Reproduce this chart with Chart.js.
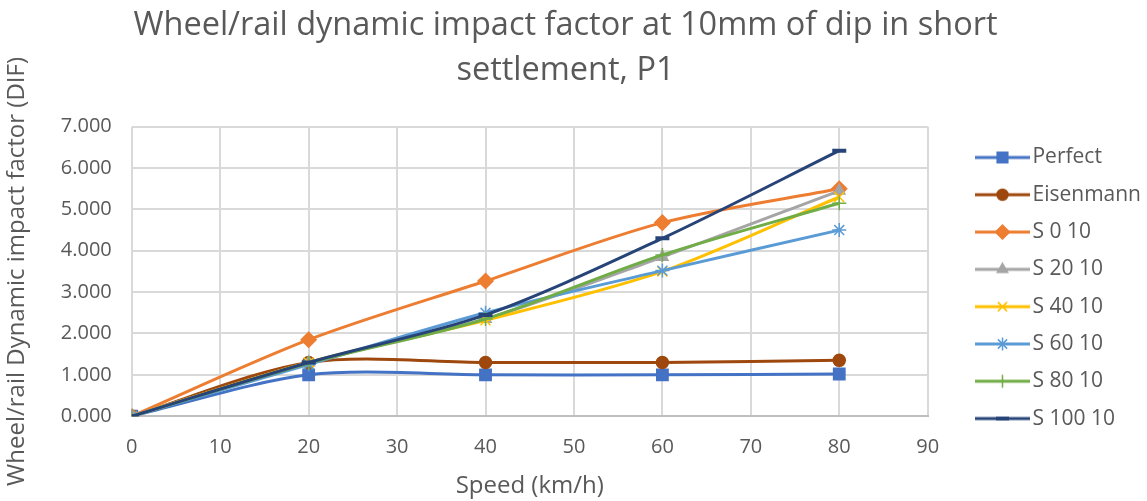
<!DOCTYPE html>
<html lang="en">
<head>
    <meta charset="UTF-8">
    <title>Wheel/rail dynamic impact factor</title>
    <script src="https://cdn.jsdelivr.net/npm/chart.js"></script>
    <style>
        html, body { margin: 0; padding: 0; background: #fff; }
        .chart-container { width: 1147px; height: 501px; }
    </style>
</head>
<body>
<div class="chart-container">
    <canvas id="difChart" width="1147" height="501"></canvas>
</div>

<script>
    // speeds (km/h)
    const speeds = [0, 20, 40, 60, 80];

    const perfect   = [0, 1.00, 1.00, 1.00, 1.02];
    const eisenmann = [0, 1.30, 1.30, 1.30, 1.35];
    const s0_10     = [0, 1.85, 3.27, 4.68, 5.50];
    const s20_10    = [0, 1.30, 2.35, 3.85, 5.45];
    const s40_10    = [0, 1.30, 2.32, 3.50, 5.30];
    const s60_10    = [0, 1.25, 2.50, 3.52, 4.50];
    const s80_10    = [0, 1.28, 2.35, 3.90, 5.15];
    const s100_10   = [0, 1.30, 2.45, 4.30, 6.42];

    const seriesNames = ['Perfect', 'Eisenmann', 'S 0 10', 'S 20 10', 'S 40 10', 'S 60 10', 'S 80 10', 'S 100 10'];
    const seriesValues = [perfect, eisenmann, s0_10, s20_10, s40_10, s60_10, s80_10, s100_10];
    const colors = ['#4472C4', '#9E480E', '#ED7D31', '#A5A5A5', '#FFC000', '#5B9BD5', '#70AD47', '#264478'];
    const markers = ['rect', 'circle', 'rectRot', 'triangle', 'crossRot', 'star', 'cross', 'line'];
    const markerSize = [8, 6, 7.5, 6.5, 7, 7, 7, 7];

    const textColor = '#595959';
    const font = '"Open Sans", "Noto Sans", sans-serif';

    // line + marker images for the legend (left part kept transparent as a gap)
    const iconW = 94, iconGap = 39;
    const legendIcons = seriesNames.map((name, i) => {
        const c = document.createElement('canvas');
        c.width = iconW;
        c.height = 20;
        const g = c.getContext('2d');
        g.strokeStyle = colors[i];
        g.lineWidth = 3;
        g.beginPath();
        g.moveTo(iconGap, 10);
        g.lineTo(iconW, 10);
        g.stroke();
        g.fillStyle = colors[i];
        g.lineWidth = markers[i] === 'line' ? 4 : 1.5;
        Chart.helpers.drawPoint(g, { pointStyle: markers[i], radius: markerSize[i] - 0.5, rotation: 0, borderWidth: g.lineWidth }, (iconGap + iconW) / 2, 10);
        return c;
    });

    const datasets = seriesNames.map((name, i) => ({
        label: name,
        data: speeds.map((s, j) => ({ x: s, y: seriesValues[i][j] })),
        borderColor: colors[i],
        backgroundColor: colors[i],
        borderWidth: 3,
        pointStyle: markers[i],
        pointRadius: markerSize[i],
        pointBorderWidth: markers[i] === 'line' ? 4 : 1.5,
        pointBorderColor: colors[i],
        pointBackgroundColor: colors[i],
        tension: 0.3,
        order: seriesNames.length - i
    }));

    const ctx = document.getElementById('difChart').getContext('2d');
    new Chart(ctx, {
        type: 'line',
        data: { datasets },
        options: {
            responsive: false,
            animation: false,
            layout: { padding: { left: -20, right: -4, top: 3, bottom: 0 } },
            plugins: {
                title: {
                    display: true,
                    text: ['Wheel/rail dynamic impact factor at 10mm of dip in short', 'settlement, P1'],
                    color: textColor,
                    font: { family: font, size: 32.5, weight: 'normal', lineHeight: 1.38 },
                    padding: { top: 0, bottom: 34 }
                },
                legend: {
                    position: 'right',
                    title: { display: true, text: ' ', font: { size: 10 }, padding: { top: 60, bottom: 0 } },
                    labels: {
                        usePointStyle: true,
                        pointStyleWidth: 78,
                        color: textColor,
                        font: { family: font, size: 21 },
                        padding: 16.3,
                        sort: (a, b) => a.datasetIndex - b.datasetIndex,
                        generateLabels: (chart) => {
                            const items = Chart.defaults.plugins.legend.labels.generateLabels(chart);
                            items.forEach(it => { it.pointStyle = legendIcons[it.datasetIndex]; });
                            return items;
                        }
                    }
                },
                tooltip: { enabled: false }
            },
            scales: {
                x: {
                    type: 'linear',
                    min: 0,
                    max: 90,
                    ticks: { stepSize: 10, color: textColor, font: { family: font, size: 20 }, padding: 19 },
                    grid: { color: '#d9d9d9', lineWidth: 2, drawTicks: false },
                    border: { color: '#bfbfbf', width: 2 },
                    title: { display: true, text: 'Speed (km/h)', color: textColor, font: { family: font, size: 24 }, padding: { top: -6, bottom: 0 } }
                },
                y: {
                    min: 0,
                    max: 7,
                    ticks: {
                        stepSize: 1,
                        color: textColor,
                        font: { family: font, size: 20 },
                        padding: 20,
                        callback: v => v.toFixed(3)
                    },
                    grid: { color: '#d9d9d9', lineWidth: 2, drawTicks: false },
                    border: { display: false },
                    title: { display: true, text: 'Wheel/rail Dynamic impact factor (DIF)', color: textColor, font: { family: font, size: 24 }, padding: { top: 23, bottom: 9 } }
                }
            }
        }
    });
</script>
</body>
</html>
